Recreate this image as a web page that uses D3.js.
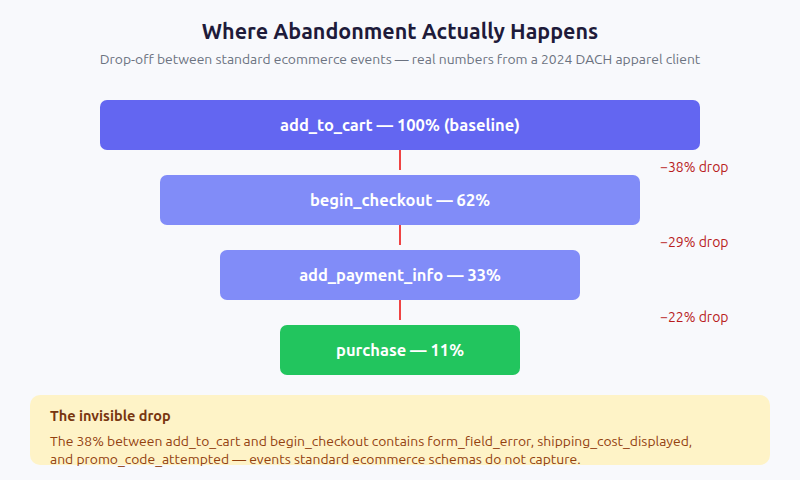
<!DOCTYPE html>
<html><head><meta charset="utf-8">
<script src="https://cdn.jsdelivr.net/npm/d3@7"></script>
<style>
html,body{margin:0;padding:0;background:#f8f9fc;}
svg{display:block;font-family:Ubuntu,"Noto Sans",sans-serif;}
</style></head>
<body>
<svg id="chart" width="800" height="480"></svg>
<script>
const steps = ["add_to_cart", "begin_checkout", "add_payment_info", "purchase"];
const stepValues = [100, 62, 33, 11];
const stepSuffix = [" (baseline)", "", "", ""];
const dropValues = [38, 29, 22];
const stepColors = ["#6366f1", "#818cf8", "#818cf8", "#22c55e"];
const titleText = "Where Abandonment Actually Happens";
const subtitleText = "Drop-off between standard ecommerce events \u2014 real numbers from a 2024 DACH apparel client";
const noteTitle = "The invisible drop";
const noteLines = [
  "The 38% between add_to_cart and begin_checkout contains form_field_error, shipping_cost_displayed,",
  "and promo_code_attempted \u2014 events standard ecommerce schemas do not capture."
];

const W = 800, H = 480, cx = 400;
const svg = d3.select("#chart");
svg.append("rect").attr("width", W).attr("height", H).attr("fill", "#f8f9fc");

svg.append("text").attr("x", cx).attr("y", 39).attr("text-anchor", "middle")
  .attr("font-size", 21.5).attr("font-weight", 700).attr("fill", "#1e1b3a").text(titleText);
svg.append("text").attr("x", cx).attr("y", 64).attr("text-anchor", "middle")
  .attr("font-size", 13.9).attr("fill", "#6b7280").text(subtitleText);

const y = d3.scaleBand().domain(d3.range(steps.length)).range([100, 375]).paddingInner(1 / 3).paddingOuter(0);
// widths step by position in the funnel
const wScale = d3.scaleLinear().domain([0, steps.length - 1]).range([600, 240]);

const g = svg.append("g");
steps.forEach((s, i) => {
  const w = wScale(i);
  g.append("rect").attr("x", cx - w / 2).attr("y", y(i)).attr("width", w).attr("height", y.bandwidth())
    .attr("rx", 7).attr("fill", stepColors[i]);
  g.append("text").attr("x", cx).attr("y", y(i) + y.bandwidth() / 2 + 6).attr("text-anchor", "middle")
    .attr("font-size", 16.5).attr("font-weight", 700).attr("fill", "#ffffff")
    .text(`${s} \u2014 ${stepValues[i]}%${stepSuffix[i]}`);
});

dropValues.forEach((d, i) => {
  const y0 = y(i) + y.bandwidth();
  g.append("line").attr("x1", cx).attr("x2", cx).attr("y1", y0).attr("y2", y0 + 20)
    .attr("stroke", "#ef4444").attr("stroke-width", 2);
  g.append("text").attr("x", 660).attr("y", y0 + 22).attr("font-size", 14)
    .attr("fill", "#b91c1c").text(`\u2212${d}% drop`);
});

const note = svg.append("g");
note.append("rect").attr("x", 30).attr("y", 395).attr("width", 740).attr("height", 70).attr("rx", 10)
  .attr("fill", "#fef3c7");
note.append("text").attr("x", 50).attr("y", 421).attr("font-size", 14.5).attr("font-weight", 700)
  .attr("fill", "#78350f").text(noteTitle);
noteLines.forEach((l, i) => {
  note.append("text").attr("x", 50).attr("y", 445.5 + i * 18).attr("font-size", 13.9)
    .attr("fill", "#92400e").text(l);
});
</script>
</body></html>
